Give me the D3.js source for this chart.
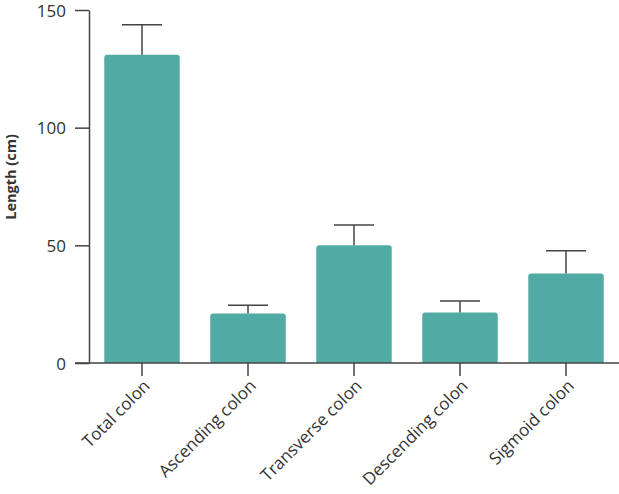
<!DOCTYPE html>
<html>
<head>
<meta charset="utf-8">
<script src="https://cdn.jsdelivr.net/npm/d3@7"></script>
<style>
  body { margin: 0; background: #fff; }
  text { font-family: "Open Sans", sans-serif; fill: #333; }
</style>
</head>
<body>
<div id="chart"></div>
<script>
const categories = ["Total colon", "Ascending colon", "Transverse colon", "Descending colon", "Sigmoid colon"];
const means = [131, 21, 50, 21.5, 38];
const errors = [12.7, 3.5, 8.6, 4.8, 9.7];
const yTicks = [0, 50, 100, 150];

const width = 619;
const height = 494;
const margin = { top: 10, right: 0, bottom: 131, left: 89 };

const svg = d3.select("#chart")
  .append("svg")
  .attr("width", width)
  .attr("height", height);

const x = d3.scaleBand()
  .domain(categories)
  .range([margin.left, width])
  .paddingInner(0.288)
  .paddingOuter(0.144);

const y = d3.scaleLinear()
  .domain([0, 150])
  .range([height - margin.bottom, margin.top]);

// bars
svg.append("g")
  .selectAll("path")
  .data(categories)
  .enter()
  .append("path")
  .attr("fill", "#52aaa5")
  .attr("d", (d, i) => {
    const x0 = x(d), w = x.bandwidth(), y0 = y(means[i]), y1 = y(0), r = 3;
    return `M${x0},${y1}V${y0 + r}Q${x0},${y0} ${x0 + r},${y0}H${x0 + w - r}Q${x0 + w},${y0} ${x0 + w},${y0 + r}V${y1}Z`;
  });

// error bars
const err = svg.append("g")
  .attr("stroke", "#444")
  .attr("stroke-width", 1.5);

categories.forEach((d, i) => {
  const cx = x(d) + x.bandwidth() / 2;
  err.append("line")
    .attr("x1", cx).attr("x2", cx)
    .attr("y1", y(means[i])).attr("y2", y(means[i] + errors[i]));
  err.append("line")
    .attr("x1", cx - 20).attr("x2", cx + 20)
    .attr("y1", y(means[i] + errors[i])).attr("y2", y(means[i] + errors[i]));
});

// y axis
const yAxis = svg.append("g")
  .attr("transform", `translate(${margin.left},0)`)
  .call(d3.axisLeft(y).tickValues(yTicks).tickSize(14).tickPadding(9).tickSizeOuter(0));

yAxis.select(".domain").attr("stroke", "#444").attr("stroke-width", 1.5);
yAxis.selectAll(".tick line").attr("stroke", "#444").attr("stroke-width", 1.5);
yAxis.selectAll(".tick text")
  .style("font-size", "17px")
  .style("font-family", "'Open Sans', sans-serif")
  .attr("fill", "#333")
  .attr("dy", "0.36em");

// x axis
const xAxis = svg.append("g")
  .attr("transform", `translate(0,${y(0)})`)
  .call(d3.axisBottom(x).tickSize(13).tickSizeOuter(0));

xAxis.select(".domain")
  .attr("d", `M${margin.left - 14},0H${width}`)
  .attr("stroke", "#444").attr("stroke-width", 1.5);
xAxis.selectAll(".tick line").attr("stroke", "#444").attr("stroke-width", 1.5);
xAxis.selectAll(".tick text")
  .style("font-size", "17px")
  .style("font-family", "'Open Sans', sans-serif")
  .attr("fill", "#333")
  .attr("text-anchor", "end")
  .attr("dy", null)
  .attr("y", 0)
  .attr("transform", "translate(9,24) rotate(-45)");

// y label
svg.append("text")
  .attr("transform", `translate(16,177) rotate(-90)`)
  .attr("text-anchor", "middle")
  .style("font-size", "14.5px")
  .style("font-weight", "bold")
  .text("Length (cm)");
</script>
</body>
</html>
